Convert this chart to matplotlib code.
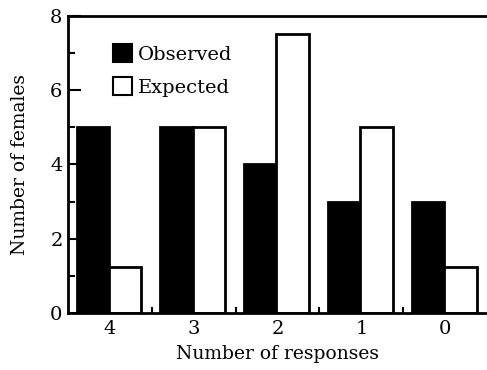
import matplotlib.pyplot as plt
import numpy as np

# data
categories = ["4", "3", "2", "1", "0"]
observed = [5, 5, 4, 3, 3]
expected = [1.25, 5, 7.5, 5, 1.25]

plt.rcParams['font.family'] = ['DejaVu Serif']

fig = plt.figure(figsize=(4.87, 3.70), dpi=100)
ax = fig.add_axes([0.14, 0.154, 0.86, 0.803])

x = np.arange(len(categories))
w = 0.39
ax.bar(x - 0.205, observed, w, color='black', edgecolor='black', linewidth=2,
       label='Observed')
ax.bar(x + 0.18, expected, w, color='white', edgecolor='black', linewidth=2,
       label='Expected')

ax.set_xlim(-0.5, len(categories) - 0.5)
ax.set_ylim(0, 8)

# group labels under the centres, small ticks between groups
ax.set_xticks(x)
ax.set_xticklabels(categories, fontsize=14)
ax.tick_params(axis='x', length=0, pad=5)
ax.set_xticks(np.arange(0.5, len(categories) - 0.5, 1), minor=True)
ax.tick_params(axis='x', which='minor', direction='in', length=4, width=1.5)

ax.set_yticks([0, 2, 4, 6, 8])
ax.set_yticks([1, 3, 5, 7], minor=True)
ax.tick_params(axis='y', which='major', direction='in', length=9, width=1.5,
               labelsize=14, pad=4)
ax.tick_params(axis='y', which='minor', direction='in', length=5, width=1.5)

for side in ['left', 'bottom', 'top']:
    ax.spines[side].set_linewidth(2)
ax.spines['right'].set_visible(False)

ax.set_xlabel('Number of responses', fontsize=13.5, labelpad=5)
ax.set_ylabel('Number of females', fontsize=13.5, labelpad=15)

leg = ax.legend(loc='upper left', bbox_to_anchor=(0.088, 0.93), frameon=False,
                fontsize=14, handlelength=1.0, handleheight=1.0,
                handletextpad=0.3, labelspacing=0.7, borderaxespad=0)
for h in leg.legend_handles:
    h.set_linewidth(1.5)

fig.savefig('out.png', dpi=100)
